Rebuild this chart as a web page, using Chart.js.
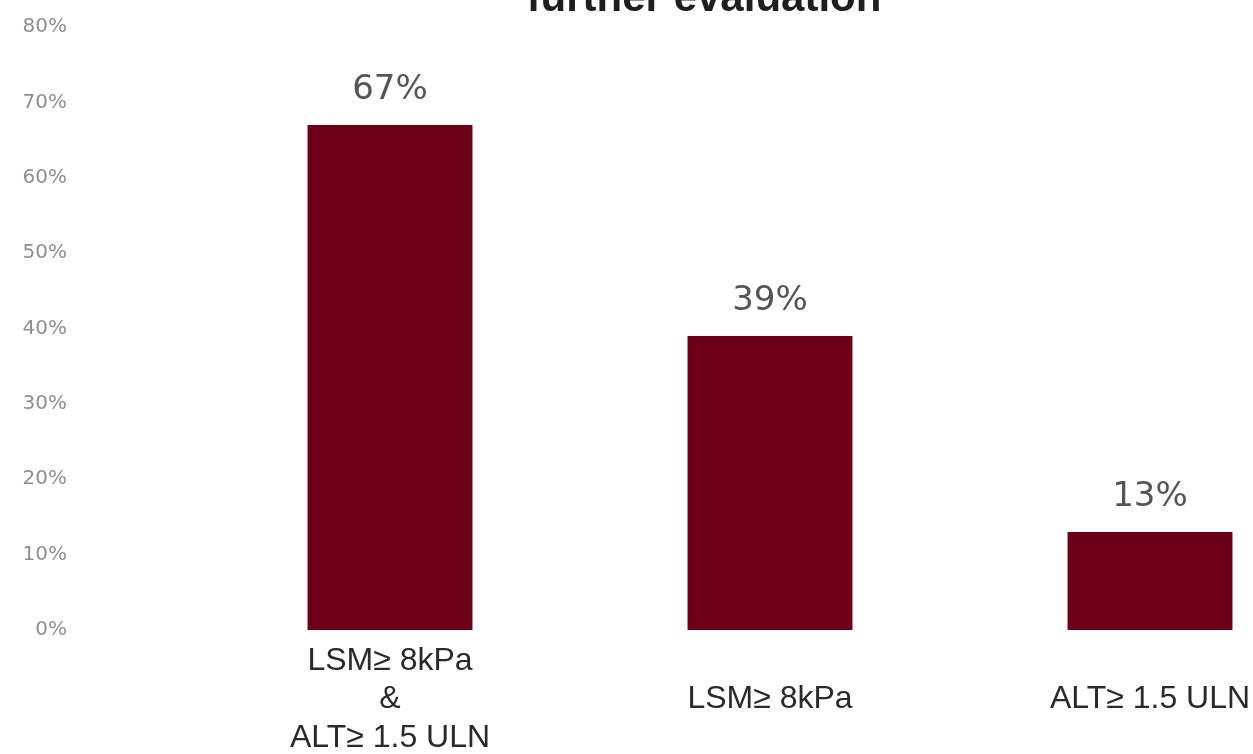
<!DOCTYPE html>
<html>
<head>
<meta charset="utf-8">
<script src="https://cdn.jsdelivr.net/npm/chart.js@4/dist/chart.umd.min.js"></script>
<style>
  html, body { margin: 0; padding: 0; background: #fff; overflow: hidden; }
  canvas { display: block; }
</style>
</head>
<body>
<canvas id="chart" width="1340" height="754"></canvas>
<script>
// -----------------------------
// Data
// -----------------------------
const categories = [
    ["LSM\u2265 8kPa", "&", "ALT\u2265 1.5 ULN"],
    ["", "LSM\u2265 8kPa"],
    ["", "ALT\u2265 1.5 ULN"]
];
const percentValues = [67, 39, 13];
const yTicks = [0, 10, 20, 30, 40, 50, 60, 70, 80];
const titleText = "further evaluation";

const BAR_COLOR = "#6d0019";

// -----------------------------
// Value labels above the bars
// -----------------------------
const valueLabels = {
    id: "valueLabels",
    afterDatasetsDraw(chart) {
        const ctx = chart.ctx;
        const meta = chart.getDatasetMeta(0);
        ctx.save();
        ctx.font = "34px 'DejaVu Sans'";
        ctx.fillStyle = "#555555";
        ctx.textAlign = "center";
        ctx.textBaseline = "alphabetic";
        meta.data.forEach((bar, i) => {
            ctx.fillText(percentValues[i] + "%", bar.x, bar.y - 26);
        });
        ctx.restore();
    }
};

// -----------------------------
// Heading line, mostly above the top edge
// -----------------------------
const topHeading = {
    id: "topHeading",
    afterDraw(chart) {
        const ctx = chart.ctx;
        ctx.save();
        ctx.font = "bold 42px 'Liberation Sans'";
        ctx.fillStyle = "#1e1e1e";
        ctx.textAlign = "center";
        ctx.textBaseline = "alphabetic";
        ctx.fillText(titleText, 704, 11);
        ctx.restore();
    }
};

const ctx = document.getElementById("chart").getContext("2d");
new Chart(ctx, {
    type: "bar",
    data: {
        labels: categories,
        datasets: [{
            data: percentValues,
            backgroundColor: BAR_COLOR,
            borderWidth: 0,
            barPercentage: 0.434,
            categoryPercentage: 1.0
        }]
    },
    options: {
        responsive: false,
        animation: false,
        layout: { padding: { top: 27, right: 0, bottom: 0, left: 0 } },
        plugins: {
            legend: { display: false },
            tooltip: { enabled: false },
            title: { display: false }
        },
        scales: {
            x: {
                grid: { display: false, drawTicks: false },
                border: { display: false },
                ticks: {
                    padding: 12,
                    color: "#2a2a2a",
                    maxRotation: 0,
                    autoSkip: false,
                    font: { family: "'Liberation Sans'", size: 32, lineHeight: 1.2 }
                },
                afterFit(axis) { axis.height = 124; }
            },
            y: {
                min: yTicks[0],
                max: yTicks[yTicks.length - 1],
                afterBuildTicks(axis) { axis.ticks = yTicks.map(v => ({ value: v })); },
                // tick marks are hidden; their length only pushes the labels out to the left
                grid: { display: false, drawTicks: true, tickLength: 127 },
                border: { display: false },
                ticks: {
                    padding: 6,
                    color: "#8f8f8f",
                    font: { family: "'DejaVu Sans'", size: 20 },
                    callback: v => v + "%"
                },
                afterFit(axis) { axis.width = 200; }
            }
        }
    },
    plugins: [valueLabels, topHeading]
});
</script>
</body>
</html>
